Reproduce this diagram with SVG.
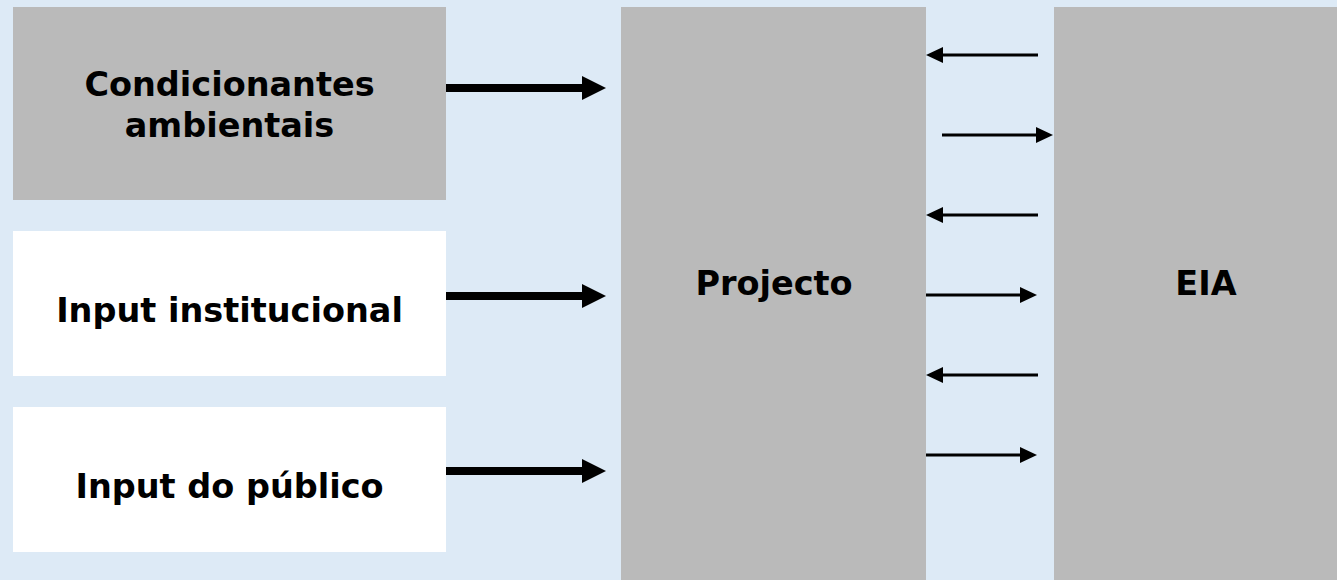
<svg xmlns="http://www.w3.org/2000/svg" width="1337" height="580" viewBox="0 0 1337 580">
<style>
.gray{fill:#BABABA}
.white{fill:#FFFFFF}
.lbl{font-family:"DejaVu Sans","Liberation Sans",sans-serif;font-weight:bold;font-size:33.5px;fill:#000;text-anchor:middle}
.thick{stroke:#000;stroke-width:8;fill:none}
.thin{stroke:#000;stroke-width:3;fill:none}
</style>
<defs>
<marker id="bigHead" markerUnits="userSpaceOnUse" markerWidth="26" markerHeight="24" refX="0" refY="12" orient="auto" overflow="visible">
<path d="M0,0 L24,12 L0,24 Z" fill="#000"/>
</marker>
<marker id="smallHead" markerUnits="userSpaceOnUse" markerWidth="18" markerHeight="16" refX="0" refY="8" orient="auto" overflow="visible">
<path d="M0,0 L17,8 L0,16 Z" fill="#000"/>
</marker>
</defs>
<rect x="0" y="0" width="1337" height="580" fill="#DDEAF6"/>
<g id="node-condicionantes">
<rect class="gray" x="13" y="7" width="433" height="193"/>
<text class="lbl" x="229.5" y="96">Condicionantes</text>
<text class="lbl" x="229.5" y="137">ambientais</text>
</g>
<g id="node-institucional">
<rect class="white" x="13" y="231" width="433" height="145"/>
<text class="lbl" x="229.5" y="322">Input institucional</text>
</g>
<g id="node-publico">
<rect class="white" x="13" y="407" width="433" height="145"/>
<text class="lbl" x="229.5" y="498">Input do público</text>
</g>
<g id="node-projecto">
<rect class="gray" x="621" y="7" width="305" height="580"/>
<text class="lbl" x="774" y="295">Projecto</text>
</g>
<g id="node-eia">
<rect class="gray" x="1054" y="7" width="290" height="580"/>
<text class="lbl" x="1206" y="295">EIA</text>
</g>
<g id="connectors">
<line class="thick" x1="446" y1="88" x2="582" y2="88" marker-end="url(#bigHead)"/>
<line class="thick" x1="446" y1="296" x2="582" y2="296" marker-end="url(#bigHead)"/>
<line class="thick" x1="446" y1="471" x2="582" y2="471" marker-end="url(#bigHead)"/>
<line class="thin" x1="1038" y1="55" x2="943" y2="55" marker-end="url(#smallHead)"/>
<line class="thin" x1="942" y1="135" x2="1036" y2="135" marker-end="url(#smallHead)"/>
<line class="thin" x1="1038" y1="215" x2="943" y2="215" marker-end="url(#smallHead)"/>
<line class="thin" x1="926" y1="295" x2="1020" y2="295" marker-end="url(#smallHead)"/>
<line class="thin" x1="1038" y1="375" x2="943" y2="375" marker-end="url(#smallHead)"/>
<line class="thin" x1="926" y1="455" x2="1020" y2="455" marker-end="url(#smallHead)"/>
</g>
</svg>
